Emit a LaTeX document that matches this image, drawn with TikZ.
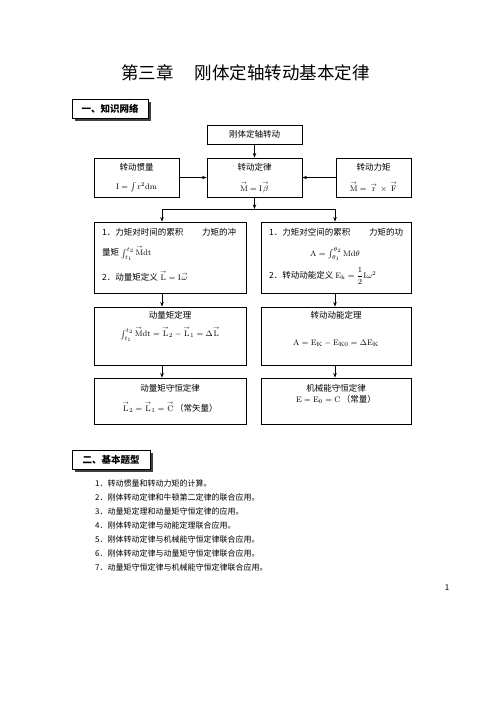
\documentclass[tikz,border=0pt]{standalone}
\usepackage{amsmath,amssymb}
\usepackage[no-math]{fontspec}
\setmainfont{Noto Sans CJK SC}
\usetikzlibrary{arrows.meta,shadows}
\newcommand{\vecup}[1]{\overset{\scriptscriptstyle\rightarrow}{\mathrm{#1}}}

\begin{document}
\begin{tikzpicture}[x=1pt,y=-1pt,
  box/.style={draw,line width=0.9pt,inner sep=0pt},
  head/.style={draw,line width=0.9pt,fill=white,inner sep=0pt,minimum height=19pt,
    font=\fontsize{9.5}{11}\selectfont\bfseries,
    general shadow={fill=black!75,shadow xshift=2.5pt,shadow yshift=-2.5pt}},
  txt/.style={inner sep=0pt,font=\fontsize{8.5}{10}\selectfont},
  item/.style={anchor=west,inner sep=0pt,font=\fontsize{8}{10}\selectfont},
  conn/.style={line width=0.8pt,-{Stealth[length=4.5pt,width=3.5pt]}}]
  \useasboundingbox (0,0) rectangle (496,702);

  % title and first heading
  \node[inner sep=0pt,font=\fontsize{17.5}{20}\selectfont] (title) at (245.5,73)
    {第三章\hspace{1.2em}刚体定轴转动基本定律};
  \node[head,minimum width=76pt] (net) at (110,108.5) {一、知识网络};

  % first rows
  \node[box,txt,minimum width=95pt,minimum height=19pt] (rigid) at (254.5,134.5) {刚体定轴转动};
  \node[box,minimum width=85pt,minimum height=39pt] (inertia) at (136.5,177.5) {};
  \node[box,minimum width=95pt,minimum height=39pt] (law) at (254.5,177.5) {};
  \node[box,minimum width=75pt,minimum height=39pt] (torque) at (373.5,177.5) {};
  \node[txt] (inertiaT) at (136.5,167) {转动惯量};
  \node[txt] (inertiaF) at (136.5,187) {$\mathrm{I}=\int \mathrm{r}^2\mathrm{dm}$};
  \node[txt] (lawT) at (254.5,167) {转动定律};
  \node[txt] (lawF) at (254.5,187) {$\vecup{M}=\mathrm{I}\vecup{\beta}$};
  \node[txt] (torqueT) at (373.5,167) {转动力矩};
  \node[txt] (torqueF) at (373.5,187) {$\vecup{M}=\,\vecup{r}\,\times\,\vecup{F}$};

  % accumulation boxes
  \node[box,minimum width=152pt,minimum height=71pt] (cumL) at (170,257.5) {};
  \node[box,minimum width=150pt,minimum height=71pt] (cumR) at (336,257.5) {};
  \node[txt,anchor=west] (cumL1) at (102,232) {1．力矩对时间的累积\hspace{2.2em}力矩的冲};
  \node[txt,anchor=west] (cumL2) at (102,253) {量矩 $\int_{t_1}^{t_2}\vecup{M}\mathrm{dt}$};
  \node[txt,anchor=west] (cumL3) at (102,276) {2．动量矩定义 $\vecup{L}=\mathrm{I}\vecup{\omega}$};
  \node[txt,anchor=west] (cumR1) at (269,232) {1．力矩对空间的累积\hspace{2.2em}力矩的功};
  \node[txt] (cumR2) at (335,254) {$\mathrm{A}=\int_{\theta_1}^{\theta_2}\mathrm{M}\mathrm{d}\theta$};
  \node[txt,anchor=west] (cumR3) at (269,276) {2．转动动能定义 $\mathrm{E}_{\mathrm{k}}=\dfrac{1}{2}\mathrm{I}\omega^2$};

  % theorem boxes
  \node[box,minimum width=152pt,minimum height=58pt] (thmL) at (170,336) {};
  \node[box,minimum width=150pt,minimum height=58pt] (thmR) at (336,336) {};
  \node[txt] (thmLT) at (170,315) {动量矩定理};
  \node[txt] (thmLF) at (170,334)
    {$\int_{t_1}^{t_2}\vecup{M}\mathrm{dt}=\vecup{L}_2-\vecup{L}_1=\Delta\vecup{L}$};
  \node[txt] (thmRT) at (336,315) {转动动能定理};
  \node[txt] (thmRF) at (336,343)
    {$\mathrm{A}=\mathrm{E}_{\mathrm{K}}-\mathrm{E}_{\mathrm{K0}}=\Delta\mathrm{E}_{\mathrm{K}}$};

  % conservation boxes
  \node[box,minimum width=152pt,minimum height=46pt] (consL) at (170,401) {};
  \node[box,minimum width=150pt,minimum height=46pt] (consR) at (336,401) {};
  \node[txt] (consLT) at (170,388) {动量矩守恒定律};
  \node[txt] (consLF) at (170,407) {$\vecup{L}_2=\vecup{L}_1=\vecup{C}$\,（常矢量）};
  \node[txt] (consRT) at (336,388) {机械能守恒定律};
  \node[txt] (consRF) at (336,399) {$\mathrm{E}=\mathrm{E}_0=\mathrm{C}$\,（常量）};

  % connectors
  \coordinate (jl) at (162,209);
  \coordinate (jr) at (335,209);
  \draw[conn] (rigid.south) -- (law.north);
  \draw[conn] (inertia.east) -- (law.west);
  \draw[conn] (torque.west) -- (law.east);
  \draw[conn] (law.south) -- (law.south |- jl);
  \draw[line width=0.8pt] (jl) -- (jr);
  \draw[conn] (jl) -- (jl |- cumL.north);
  \draw[conn] (jr) -- (jr |- cumR.north);
  \draw[conn] (jl |- cumL.south) -- (jl |- thmL.north);
  \draw[conn] (jr |- cumR.south) -- (jr |- thmR.north);
  \draw[conn] (jl |- thmL.south) -- (jl |- consL.north);
  \draw[conn] (jr |- thmR.south) -- (jr |- consR.north);

  % second part
  \node[head,minimum width=78pt] (kind) at (111,460) {二、基本题型};
  \node[item] (k1) at (95,483) {1．转动惯量和转动力矩的计算。};
  \node[item] (k2) at (95,497) {2．刚体转动定律和牛顿第二定律的联合应用。};
  \node[item] (k3) at (95,511) {3．动量矩定理和动量矩守恒定律的应用。};
  \node[item] (k4) at (95,525) {4．刚体转动定律与动能定理联合应用。};
  \node[item] (k5) at (95,539) {5．刚体转动定律与机械能守恒定律联合应用。};
  \node[item] (k6) at (95,553) {6．刚体转动定律与动量矩守恒定律联合应用。};
  \node[item] (k7) at (95,567) {7．动量矩守恒定律与机械能守恒定律联合应用。};
  \node[inner sep=0pt,font=\fontsize{8}{10}\selectfont] (page) at (447,588) {1};
\end{tikzpicture}
\end{document}
